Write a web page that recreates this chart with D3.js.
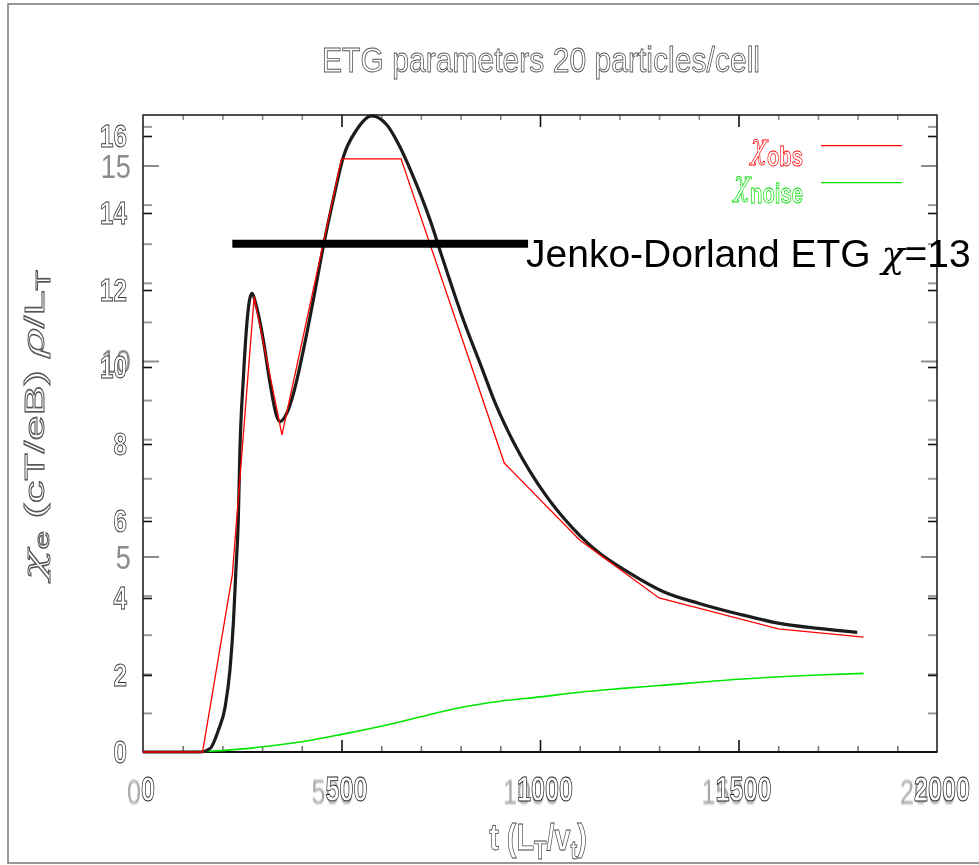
<!DOCTYPE html>
<html>
<head>
<meta charset="utf-8">
<script src="https://cdn.jsdelivr.net/npm/d3@7"></script>
<style>
  html, body { margin: 0; padding: 0; background: #fff; }
  svg { display: block; }
  text { font-family: "Liberation Sans", Arial, sans-serif; }
  .greek { font-family: "DejaVu Serif", "Liberation Serif", serif; font-style: italic; }
</style>
</head>
<body>
<svg id="chart" width="979" height="865"></svg>
<script>
// χ_e time trace (smooth simulation output)
const timeSmooth = [0, 144, 169, 190, 207, 219, 228, 234, 240, 244, 253, 261, 274, 286, 303, 320, 337, 345, 362, 379,
  404, 429, 454, 479, 505, 538, 576, 614, 647, 681, 723, 756, 807, 849, 891, 933, 975, 1017, 1059, 1101,
  1143, 1227, 1311, 1401, 1500, 1603, 1701, 1799];
const chiSmooth = [0, 0, 0.09, 0.56, 1.16, 2.10, 3.37, 4.65, 5.93, 7.67, 9.60, 10.88, 11.73, 11.39, 10.54, 9.43, 8.58, 8.45, 8.66, 9.17,
  10.28, 11.56, 12.92, 14.12, 15.23, 15.91, 16.27, 16.04, 15.48, 14.71, 13.61, 12.58, 11.05, 9.94, 8.83, 7.93, 7.17, 6.53, 5.99, 5.53,
  5.14, 4.57, 4.10, 3.80, 3.53, 3.29, 3.16, 3.06];

// χ_obs (sampled, piecewise linear)
const timeObs = [0, 150, 225, 280, 350, 500, 650, 910, 1100, 1300, 1600, 1815];
const chiObs  = [0, 0, 4.53, 11.64, 8.11, 15.17, 15.17, 7.39, 5.42, 3.94, 3.15, 2.94];

// χ_noise
const timeNoise = [0, 170, 250, 400, 500, 600, 700, 800, 900, 1000, 1100, 1200, 1300, 1500, 1700, 1815];
const chiNoise  = [0, 0.02, 0.08, 0.26, 0.45, 0.66, 0.90, 1.14, 1.30, 1.41, 1.53, 1.62, 1.70, 1.86, 1.97, 2.01];

// Jenko-Dorland reference level
const jenkoSpan = [225, 970];
const jenkoChi = 13;

// ticks and labels
const xTickValues = [0, 500, 1000, 1500, 2000];
const yTickValues = [0, 2, 4, 6, 8, 10, 12, 14, 16];
const yAltTickLabels = [5, 10, 15];
const titleText = "ETG parameters 20 particles/cell";
const legendItems = [
  { sym: "\u03c7", sub: "obs", color: "#ff0000" },
  { sym: "\u03c7", sub: "noise", color: "#00e000" }
];

const svg = d3.select("#chart");
const L = 143, R = 937, T = 115, B = 752;

const x = d3.scaleLinear().domain([0, 2000]).range([L, R]);
const y = d3.scaleLinear().domain([0, 16]).range([B, B - 16 * 39.1]);
const yLab = d3.scaleLinear().domain([0, 16]).range([B, 136]);

const defs = svg.append("defs");
defs.append("filter").attr("id", "soft").attr("x", "-5%").attr("y", "-5%").attr("width", "110%").attr("height", "110%")
  .append("feGaussianBlur").attr("stdDeviation", 0.55);
defs.append("filter").attr("id", "ghost").attr("x", "-20%").attr("y", "-20%").attr("width", "140%").attr("height", "140%")
  .append("feGaussianBlur").attr("stdDeviation", 1.1);
defs.append("filter").attr("id", "flat")
  .append("feOffset").attr("dx", 0).attr("dy", 0);

svg.append("rect").attr("width", 979).attr("height", 865).attr("fill", "#fff");

// outer border of the page
svg.append("path").attr("d", "M979,4H8V863H979").attr("fill", "none").attr("stroke", "#777").attr("stroke-width", 1.5);

// ---- ticks ----
function plainTicks(g, color, width) {
  g.select(".domain").remove();
  g.selectAll(".tick text").remove();
  g.selectAll(".tick line").attr("stroke", color).attr("stroke-width", width);
}
const minorX = d3.range(100, 2000, 100).filter(d => d % 500 !== 0);
const majorXInner = xTickValues.filter(d => d > 0 && d < 2000);

svg.append("g").attr("transform", `translate(0,${B})`)
  .call(d3.axisBottom(x).tickValues(minorX).tickSize(-6).tickFormat(""))
  .call(plainTicks, "#777", 1.6);
svg.append("g").attr("transform", `translate(0,${B})`)
  .call(d3.axisBottom(x).tickValues(majorXInner).tickSize(-12).tickFormat(""))
  .call(plainTicks, "#111", 1.6);
svg.append("g").attr("transform", `translate(0,${T})`)
  .call(d3.axisTop(x).tickValues(minorX).tickSize(-5).tickFormat(""))
  .call(plainTicks, "#888", 1.6);
svg.append("g").attr("transform", `translate(0,${T})`)
  .call(d3.axisTop(x).tickValues(majorXInner).tickSize(-12).tickFormat(""))
  .call(plainTicks, "#111", 1.6);

// gray integer ticks plus black even ticks on both sides
const altTicks = d3.range(1, 17);
[[L, d3.axisLeft], [R, d3.axisRight]].forEach(([pos, ax]) => {
  svg.append("g").attr("transform", `translate(${pos},0)`)
    .call(ax(y).tickValues(altTicks.filter(d => !yAltTickLabels.includes(d))).tickSize(-9).tickFormat(""))
    .call(plainTicks, "#9a9a9a", 2);
  svg.append("g").attr("transform", `translate(${pos},0)`)
    .call(ax(y).tickValues(yAltTickLabels).tickSize(-16).tickFormat(""))
    .call(plainTicks, "#8a8a8a", 2);
  svg.append("g").attr("transform", `translate(${pos},0)`)
    .call(ax(yLab).tickValues(yTickValues.filter(d => d > 0)).tickSize(-9).tickFormat(""))
    .call(plainTicks, "#111", 1.6);
});

// frame
svg.append("rect").attr("x", L).attr("y", T).attr("width", R - L).attr("height", B - T)
  .attr("fill", "none").attr("stroke", "#222").attr("stroke-width", 1.6);
svg.append("line").attr("x1", L).attr("x2", R).attr("y1", B).attr("y2", B)
  .attr("stroke", "#111").attr("stroke-width", 2.2);

// ---- data ----
const lineOf = (ts, vs, curve) => d3.line().x(i => x(ts[i])).y(i => y(vs[i])).curve(curve)(d3.range(ts.length));

svg.append("path").attr("d", lineOf(timeNoise, chiNoise, d3.curveMonotoneX))
  .attr("fill", "none").attr("stroke", "#00e600").attr("stroke-width", 1.6);

svg.append("path").attr("d", lineOf(timeSmooth, chiSmooth, d3.curveMonotoneX))
  .attr("fill", "none").attr("stroke", "#1a1a1a").attr("stroke-width", 3.2)
  .attr("stroke-linejoin", "round").attr("filter", "url(#soft)");

svg.append("path").attr("d", lineOf(timeObs, chiObs, d3.curveLinear))
  .attr("fill", "none").attr("stroke", "#ff0000").attr("stroke-width", 1.3);

svg.append("line")
  .attr("x1", x(jenkoSpan[0])).attr("x2", x(jenkoSpan[1]))
  .attr("y1", y(jenkoChi)).attr("y2", y(jenkoChi))
  .attr("stroke", "#000").attr("stroke-width", 8);

const texts = svg.append("g").attr("filter", "url(#flat)");

const jd = texts.append("text").attr("x", 526).attr("y", 266.5).attr("font-size", 39).attr("fill", "#000");
jd.append("tspan").text("Jenko-Dorland ETG ");
jd.append("tspan").attr("class", "greek").attr("font-size", 38).text("\u03c7");
jd.append("tspan").text("=" + jenkoChi);

// ---- axis labels ----
const outline = (sel, color, w, weight) => sel.attr("fill", "#fff").attr("stroke", color)
  .attr("stroke-width", w || 0.9).attr("font-weight", weight || "bold");

// x tick labels: soft gray copy behind an outlined copy
texts.selectAll("text.xghost").data(xTickValues).join("text").attr("class", "xghost")
  .attr("transform", d => `translate(${x(d) - 9},${804}) scale(0.7,1)`)
  .attr("text-anchor", "middle").attr("font-size", 36)
  .attr("fill", "#a8a8a8").attr("filter", "url(#ghost)").text(d => d);
texts.selectAll("text.xmain").data(xTickValues).join("text").attr("class", "xmain")
  .attr("transform", d => `translate(${x(d) + 5},${801}) scale(0.7,1)`)
  .attr("text-anchor", "middle").attr("font-size", 36)
  .call(outline, "#222").text(d => d);

// y tick labels
texts.selectAll("text.yalt").data(yAltTickLabels).join("text").attr("class", "yalt")
  .attr("transform", d => `translate(131,${y(d) + 12}) scale(0.8,1)`)
  .attr("text-anchor", "end").attr("font-size", 34)
  .attr("fill", "#8c8c8c").attr("filter", "url(#soft)").text(d => d);
texts.selectAll("text.ymain").data(yTickValues).join("text").attr("class", "ymain")
  .attr("transform", d => `translate(127,${yLab(d) + 11}) scale(0.78,1)`)
  .attr("text-anchor", "end").attr("font-size", 31)
  .call(outline, "#333").text(d => d);

// title
texts.append("text").attr("x", 322).attr("y", 71.5)
  .attr("font-size", 35).attr("textLength", 438).attr("lengthAdjust", "spacingAndGlyphs")
  .call(outline, "#555", 0.9, "normal").text(titleText);

// x axis title
const xt = texts.append("text").attr("transform", "translate(538,850) scale(0.78,1)")
  .attr("text-anchor", "middle").attr("font-size", 37).call(outline, "#444", 0.8);
xt.append("tspan").text("t (L");
xt.append("tspan").attr("font-size", 26).attr("dy", 9).text("T");
xt.append("tspan").attr("dy", -9).text("/v");
xt.append("tspan").attr("font-size", 26).attr("dy", 9).text("t");
xt.append("tspan").attr("dy", -9).text(")");

// y axis title
const yt = texts.append("text").attr("transform", "translate(44,425) rotate(-90)")
  .attr("text-anchor", "middle").attr("font-size", 27)
  .attr("textLength", 310).attr("lengthAdjust", "spacingAndGlyphs")
  .call(outline, "#555", 1, "normal");
yt.append("tspan").attr("class", "greek").attr("font-size", 30).text("\u03c7");
yt.append("tspan").attr("font-size", 20).attr("dy", 5).text("e");
yt.append("tspan").attr("dy", -5).text(" (cT/eB) ");
yt.append("tspan").attr("class", "greek").attr("font-size", 30).text("\u03c1");
yt.append("tspan").text("/L");
yt.append("tspan").attr("font-size", 20).attr("dy", 6).text("T");

// legend
legendItems.forEach((it, i) => {
  const yy = 145.7 + i * 37;
  svg.append("line").attr("x1", 821).attr("x2", 902).attr("y1", yy).attr("y2", yy)
    .attr("stroke", it.color).attr("stroke-width", 1.2);
  const t = texts.append("text").attr("transform", `translate(803,${yy + 12}) scale(0.75,1)`)
    .attr("text-anchor", "end").attr("font-size", 30).call(outline, it.color, 0.8);
  t.append("tspan").attr("class", "greek").attr("font-size", 36).attr("font-weight", "normal").text(it.sym);
  t.append("tspan").attr("font-size", 27).attr("dy", 8).text(it.sub);
});
</script>
</body>
</html>
